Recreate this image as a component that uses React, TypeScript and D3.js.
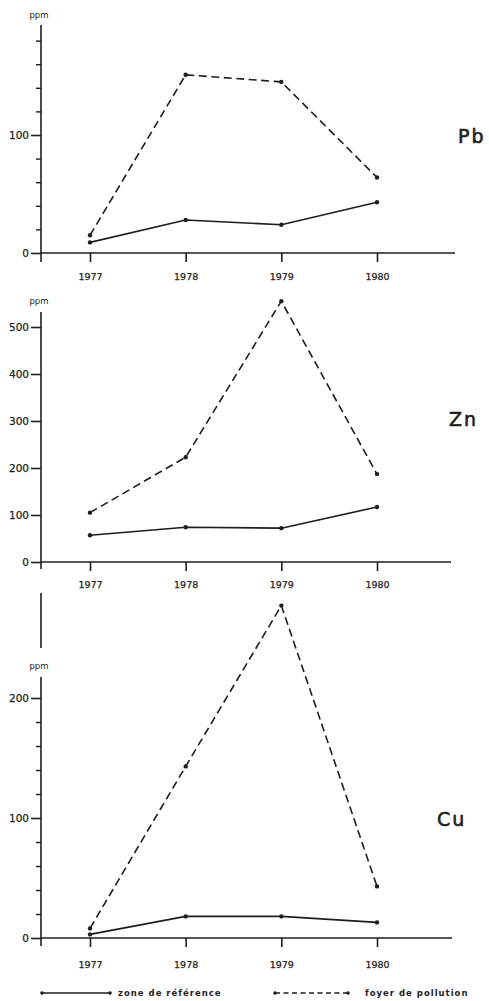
import React, { useEffect, useRef } from 'react'
import { select, scaleLinear, line, axisLeft, axisBottom } from 'd3'

// years on the x axis
const years = [1977, 1978, 1979, 1980]

// ppm values
const pbReference = [9, 28, 24, 43]
const pbPollution = [15, 151, 145, 64]
const znReference = [57, 74, 72, 117]
const znPollution = [105, 223, 555, 187]
const cuReference = [3, 18, 18, 13]
const cuPollution = [8, 143, 277, 43]

// y axis ticks
const pbMajorTicks = [0, 100]
const pbMinorTicks = [20, 40, 60, 80, 120, 140, 160, 180]
const znMajorTicks = [0, 100, 200, 300, 400, 500]
const znMinorTicks: number[] = []
const cuMajorTicks = [0, 100, 200]
const cuMinorTicks = [20, 40, 60, 80, 120, 140, 160, 180]

const legendLabels = ['zone de référence', 'foyer de pollution']

const INK = '#1e1e1e'
const FONT = '"DejaVu Sans", Verdana, sans-serif'

const panels = [
  {
    symbol: 'Pb', reference: pbReference, pollution: pbPollution,
    major: pbMajorTicks, minor: pbMinorTicks, domain: [0, 100], range: [253, 135],
    axisSegments: [[25, 262]], ppmY: 18, yearY: 277, xEnd: 455, symX: 458, symY: 143,
  },
  {
    symbol: 'Zn', reference: znReference, pollution: znPollution,
    major: znMajorTicks, minor: znMinorTicks, domain: [0, 500], range: [562, 327],
    axisSegments: [[312, 569]], ppmY: 304, yearY: 585, xEnd: 451, symX: 449, symY: 426,
  },
  {
    symbol: 'Cu', reference: cuReference, pollution: cuPollution,
    major: cuMajorTicks, minor: cuMinorTicks, domain: [0, 100], range: [938, 818],
    axisSegments: [[593, 648], [677, 946]], ppmY: 669, yearY: 965, xEnd: 452, symX: 437, symY: 826,
  },
]

export default function App() {
  const node = useRef<SVGSVGElement | null>(null)

  useEffect(() => {
    const svg = select(node.current)
    svg.selectAll('*').remove()

    const x = scaleLinear().domain([1977, 1980]).range([90, 377])
    const axisX = 41

    panels.forEach(p => {
      const y = scaleLinear().domain(p.domain).range(p.range)
      const g = svg.append('g')

      // vertical axis line (the Cu one is broken for the ppm label)
      p.axisSegments.forEach(s => {
        g.append('line')
          .attr('x1', axisX).attr('x2', axisX)
          .attr('y1', s[0]).attr('y2', s[1])
          .attr('stroke', INK).attr('stroke-width', 1.6)
      })

      // major ticks with labels
      const major = g.append('g')
        .attr('transform', 'translate(' + axisX + ',0)')
        .call(axisLeft(y).tickValues(p.major).tickSize(10).tickPadding(2))
      major.select('.domain').remove()
      major.selectAll('line').attr('stroke', INK).attr('stroke-width', 1.6)
      major.selectAll('text')
        .attr('fill', INK).attr('stroke', INK).attr('stroke-width', 0.25)
        .style('font-family', FONT).style('font-size', '10.5px')

      // minor ticks
      if (p.minor.length) {
        const minor = g.append('g')
          .attr('transform', 'translate(' + axisX + ',0)')
          .call(axisLeft(y).tickValues(p.minor).tickSize(5).tickFormat(() => ''))
        minor.select('.domain').remove()
        minor.selectAll('line').attr('stroke', INK).attr('stroke-width', 1.4)
      }

      // ppm label
      g.append('text')
        .attr('x', 39).attr('y', p.ppmY)
        .attr('text-anchor', 'middle')
        .attr('fill', INK)
        .style('font-family', FONT).style('font-size', '8.5px')
        .text('ppm')

      // horizontal axis
      const zero = y(0)
      g.append('line')
        .attr('x1', axisX).attr('x2', p.xEnd)
        .attr('y1', zero).attr('y2', zero)
        .attr('stroke', INK).attr('stroke-width', 1.6)

      const xg = g.append('g')
        .attr('transform', 'translate(0,' + zero + ')')
        .call(axisBottom(x).tickValues(years).tickSize(9).tickPadding(5).tickFormat(d => String(d)))
      xg.select('.domain').remove()
      xg.selectAll('line').attr('stroke', INK).attr('stroke-width', 1.6)
      xg.selectAll('text')
        .attr('y', p.yearY - zero)
        .attr('dy', '0.35em')
        .attr('fill', INK).attr('stroke', INK).attr('stroke-width', 0.25)
        .style('font-family', FONT).style('font-size', '9.5px')

      // lines
      const pathLine = line<number>()
        .x((d, i) => x(years[i]))
        .y(d => y(d))

      g.append('path')
        .datum(p.reference)
        .attr('fill', 'none')
        .attr('stroke', INK)
        .attr('stroke-width', 1.6)
        .attr('stroke-linejoin', 'round')
        .attr('d', pathLine)

      g.append('path')
        .datum(p.pollution)
        .attr('fill', 'none')
        .attr('stroke', INK)
        .attr('stroke-width', 1.6)
        .attr('stroke-dasharray', '8,4.5')
        .attr('d', pathLine)

      ;[p.reference, p.pollution].forEach(series => {
        g.selectAll(null)
          .data(series)
          .enter().append('circle')
          .attr('cx', (d, i) => x(years[i]))
          .attr('cy', d => y(d))
          .attr('r', 2.2)
          .attr('fill', INK)
      })

      // element symbol
      g.append('text')
        .attr('x', p.symX).attr('y', p.symY)
        .attr('fill', INK).attr('stroke', INK).attr('stroke-width', 0.6)
        .style('font-family', FONT).style('font-size', '19px')
        .style('letter-spacing', '2px')
        .text(p.symbol)
    })

    // legend
    const legend = svg.append('g').attr('transform', 'translate(0,993)')
    const items = [
      { x1: 42, x2: 110, tx: 118, dash: null, label: legendLabels[0] },
      { x1: 275, x2: 348, tx: 365, dash: '5,3.5', label: legendLabels[1] },
    ]
    items.forEach(it => {
      legend.append('line')
        .attr('x1', it.x1).attr('x2', it.x2)
        .attr('stroke', INK).attr('stroke-width', 1.5)
        .attr('stroke-dasharray', it.dash)
      legend.selectAll(null)
        .data([it.x1, it.x2])
        .enter().append('circle')
        .attr('cx', d => d).attr('r', 1.8).attr('fill', INK)
      legend.append('text')
        .attr('x', it.tx).attr('dy', '0.3em')
        .attr('fill', INK)
        .style('font-family', FONT).style('font-size', '8.5px').style('font-weight', 'bold')
        .style('letter-spacing', '1px')
        .text(it.label)
    })
  }, [])

  return (
    <svg
      ref={node}
      width={489}
      height={1001}
      style={{ position: 'absolute', left: 0, top: 0, background: '#fff' }}
    />
  )
}
